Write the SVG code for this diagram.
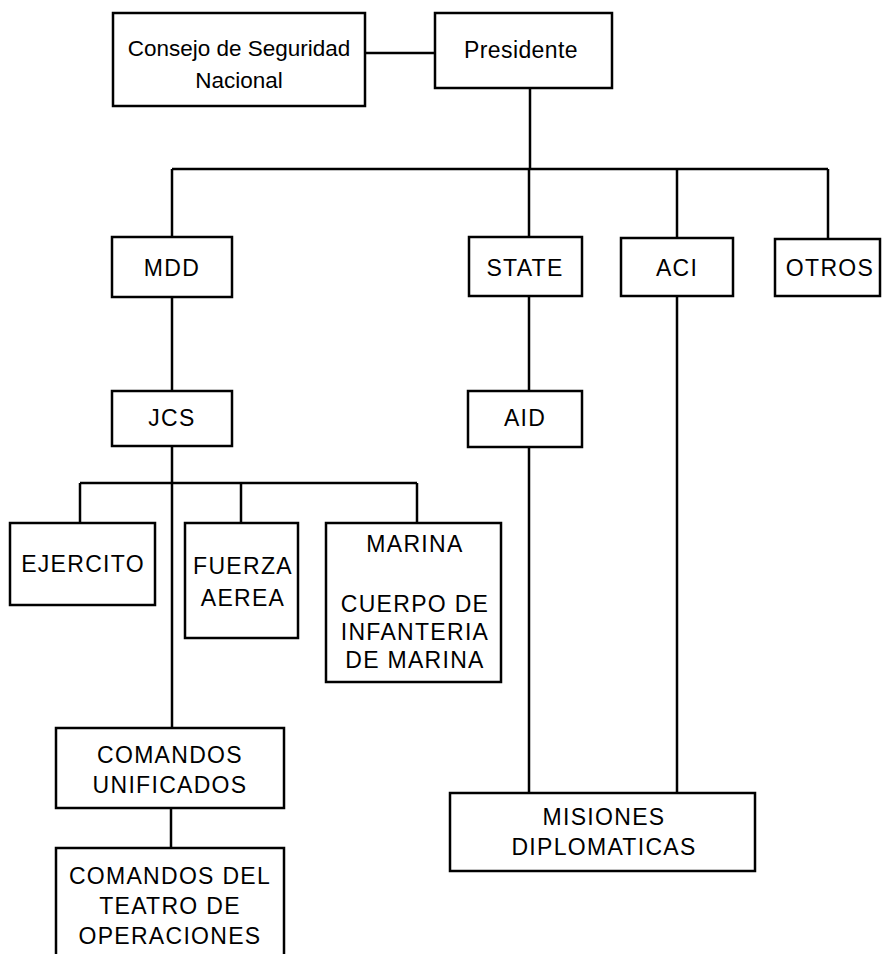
<svg xmlns="http://www.w3.org/2000/svg" width="882" height="954" viewBox="0 0 882 954">
<style>
.b{fill:#fff;stroke:#000;stroke-width:2.5}
.c{fill:none;stroke:#000;stroke-width:2.5}
text{font-family:"Liberation Sans",Arial,sans-serif;fill:#000;text-anchor:middle}
.m{font-size:22.5px}
.p{font-size:23px;letter-spacing:0.4px}
.u{font-size:23px;letter-spacing:1.3px}
</style>
<rect width="882" height="954" fill="#fff"/>
<g id="connectors">
<path class="c" d="M365,53H435"/>
<path class="c" d="M530,88V169"/>
<path class="c" d="M172,169H828"/>
<path class="c" d="M172,169V237"/>
<path class="c" d="M529,169V237"/>
<path class="c" d="M677,169V238"/>
<path class="c" d="M828,169V239"/>
<path class="c" d="M172,297V391"/>
<path class="c" d="M529,296V391"/>
<path class="c" d="M529,447V793"/>
<path class="c" d="M677,296V793"/>
<path class="c" d="M172,446V728"/>
<path class="c" d="M80,483H417"/>
<path class="c" d="M80,483V523"/>
<path class="c" d="M241,483V523"/>
<path class="c" d="M417,483V523"/>
<path class="c" d="M171,808V848"/>
</g>
<g id="consejo"><rect class="b" x="113" y="13" width="252" height="93"/><text class="m" x="239" y="56">Consejo de Seguridad</text><text class="m" x="239" y="88">Nacional</text></g>
<g id="presidente"><rect class="b" x="435" y="13" width="177" height="75"/><text class="p" x="521" y="58">Presidente</text></g>
<g id="mdd"><rect class="b" x="112" y="237" width="120" height="60"/><text class="u" x="172" y="276">MDD</text></g>
<g id="state"><rect class="b" x="469" y="237" width="113" height="59"/><text class="u" x="525" y="276">STATE</text></g>
<g id="aci"><rect class="b" x="621" y="238" width="112" height="58"/><text class="u" x="677" y="276">ACI</text></g>
<g id="otros"><rect class="b" x="775" y="239" width="105" height="57"/><text class="u" x="830" y="276">OTROS</text></g>
<g id="jcs"><rect class="b" x="112" y="391" width="120" height="55"/><text class="u" x="172" y="426">JCS</text></g>
<g id="aid"><rect class="b" x="468" y="391" width="114" height="56"/><text class="u" x="525" y="426">AID</text></g>
<g id="ejercito"><rect class="b" x="10" y="523" width="145" height="82"/><text class="u" x="83" y="572">EJERCITO</text></g>
<g id="fuerza"><rect class="b" x="185" y="523" width="113" height="115"/><text class="u" x="243" y="574">FUERZA</text><text class="u" x="243" y="606">AEREA</text></g>
<g id="marina"><rect class="b" x="326" y="523" width="175" height="159"/><text class="u" x="415" y="552">MARINA</text><text class="u" x="415" y="612">CUERPO DE</text><text class="u" x="415" y="640">INFANTERIA</text><text class="u" x="415" y="668">DE MARINA</text></g>
<g id="unificados"><rect class="b" x="56" y="728" width="228" height="80"/><text class="u" x="170" y="763">COMANDOS</text><text class="u" x="170" y="793">UNIFICADOS</text></g>
<g id="teatro"><path class="b" d="M56,956V848H284V956"/><text class="u" x="170" y="884">COMANDOS DEL</text><text class="u" x="170" y="914">TEATRO DE</text><text class="u" x="170" y="944">OPERACIONES</text></g>
<g id="misiones"><rect class="b" x="450" y="793" width="305" height="78"/><text class="u" x="604" y="825">MISIONES</text><text class="u" x="604" y="855">DIPLOMATICAS</text></g>
</svg>
